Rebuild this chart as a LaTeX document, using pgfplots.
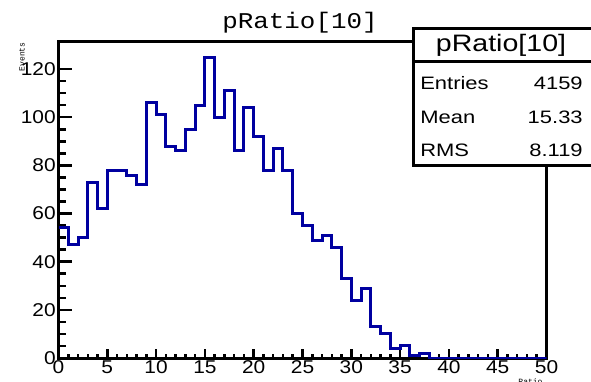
\documentclass[border=0pt]{standalone}
\usepackage{fontspec}
\setmainfont{Liberation Sans}
\newfontfamily\monofont{Liberation Mono}
\usepackage{pgfplots}
\pgfplotsset{compat=1.18}
\definecolor{histblue}{RGB}{0,0,160}

\begin{document}
\begin{tikzpicture}
\useasboundingbox (0pt,0pt) rectangle (591pt,381pt);
\begin{axis}[
    at={(58.5pt,23pt)}, anchor=south west,
    scale only axis, width=488pt, height=316pt,
    xmin=0, xmax=50, ymin=0, ymax=131.25,
    axis line style={line width=3pt},
    xtick={0,5,...,50}, minor x tick num=4,
    ytick={0,20,...,120}, minor y tick num=3,
    tick align=inside, xtick pos=lower, ytick pos=left,
    x tick style={line width=2.5pt, black, /pgfplots/major tick length=9pt, /pgfplots/minor tick length=4.5pt},
    y tick style={line width=2.5pt, black, /pgfplots/major tick length=14pt, /pgfplots/minor tick length=7pt},
    /pgf/number format/assume math mode=true,
    tick label style={font=\fontsize{18.5}{20}\selectfont, xscale=1.13},
    xticklabel style={yshift=1pt},
    yticklabel style={xshift=1pt},
]
\addplot[const plot, histblue, line width=3pt] coordinates {
(0,54) (1,47) (2,50) (3,73) (4,62) (5,78) (6,78) (7,76) (8,72) (9,106)
(10,101) (11,88) (12,86) (13,95) (14,105) (15,125) (16,100) (17,111) (18,86) (19,104)
(20,92) (21,78) (22,87) (23,78) (24,60) (25,55) (26,49) (27,51) (28,46) (29,33)
(30,24) (31,29) (32,13) (33,10) (34,4) (35,5) (36,1) (37,2) (38,0) (50,0)
};
\end{axis}
% title
\node[font=\monofont\fontsize{22.5}{24}\selectfont, xscale=1.15, anchor=base] at (300pt,352pt) {pRatio[10]};
% axis titles
\node[font=\monofont\fontsize{8}{9}\selectfont, rotate=90, anchor=east] at (22pt,342pt) {Events};
\node[font=\monofont\fontsize{8}{9}\selectfont, anchor=north east] at (546pt,6pt) {Ratio};
% stats box
\draw[line width=3pt, fill=white] (413pt,216pt) rectangle (592pt,352.5pt);
\draw[line width=3pt] (413pt,319pt) -- (592pt,319pt);
\node[font=\fontsize{23.8}{25}\selectfont, xscale=1.2] at (501pt,336pt) {pRatio[10]};
\node[font=\fontsize{18}{20}\selectfont, xscale=1.22, anchor=west] at (416pt,298pt) {Entries};
\node[font=\fontsize{18}{20}\selectfont, xscale=1.22, anchor=west] at (416pt,264pt) {Mean};
\node[font=\fontsize{18}{20}\selectfont, xscale=1.22, anchor=west] at (416pt,231pt) {RMS};
\node[font=\fontsize{18}{20}\selectfont, xscale=1.22, anchor=east] at (587pt,298pt) {4159};
\node[font=\fontsize{18}{20}\selectfont, xscale=1.22, anchor=east] at (587pt,264pt) {15.33};
\node[font=\fontsize{18}{20}\selectfont, xscale=1.22, anchor=east] at (587pt,231pt) {8.119};
\end{tikzpicture}
\end{document}
